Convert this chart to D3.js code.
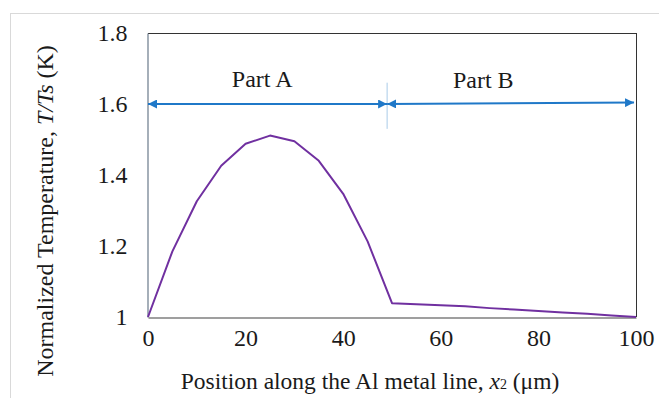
<!DOCTYPE html>
<html>
<head>
<meta charset="utf-8">
<script src="https://cdn.jsdelivr.net/npm/d3@7"></script>
<style>
  html, body { margin: 0; padding: 0; background: #fff; }
  svg { display: block; }
  text { font-family: "Liberation Serif", "Times New Roman", serif; fill: #1a1a1a; }
</style>
</head>
<body>
<svg id="chart" width="659" height="398"></svg>
<script>
// ---- data ----
const positions = [0, 5, 10, 15, 20, 25, 30, 35, 40, 45, 50, 55, 60, 65, 70, 75, 80, 85, 90, 95, 100];
const temperatures = [1.000, 1.185, 1.326, 1.426, 1.488, 1.511, 1.495, 1.440, 1.347, 1.213, 1.039,
                      1.036, 1.033, 1.030, 1.025, 1.021, 1.017, 1.013, 1.009, 1.004, 1.000];
const xTicks = [0, 20, 40, 60, 80, 100];
const yTicks = [1, 1.2, 1.4, 1.6, 1.8];
const yTickLabels = ["1", "1.2", "1.4", "1.6", "1.8"];
const partLabels = ["Part A", "Part B"];
const partLabelX = [23.4, 68.7];
const partLabelY = [1.647, 1.645];
const arrowStartX = [0, 49];
const arrowEndX = [49, 99.6];
const arrowStartY = [1.6, 1.6];
const arrowEndY = [1.6, 1.604];
const dividerX = [49];
const dividerY = [1.66, 1.53];

// ---- layout ----
const svg = d3.select("#chart");
const mLeft = 148, mRight = 636, mTop = 33, mBottom = 317;
const x = d3.scaleLinear().domain([0, 100]).range([mLeft, mRight]);
const y = d3.scaleLinear().domain([1, 1.8]).range([mBottom, mTop]);

// outer light frame
svg.append("rect").attr("x", 10.5).attr("y", 13.5).attr("width", 700).attr("height", 500)
  .attr("fill", "none").attr("stroke", "#d9d9d9").attr("stroke-width", 1);

// plot border
svg.append("line").attr("x1", mLeft).attr("x2", mRight + 0.5).attr("y1", mTop + 0.5).attr("y2", mTop + 0.5)
  .attr("stroke", "#333").attr("stroke-width", 1);
svg.append("line").attr("x1", mRight + 0.5).attr("x2", mRight + 0.5).attr("y1", mTop).attr("y2", mBottom)
  .attr("stroke", "#333").attr("stroke-width", 1);

// axes
const xAxis = d3.axisBottom(x).tickValues(xTicks).tickSize(0).tickPadding(11).tickFormat(d3.format("d"));
const gx = svg.append("g").attr("transform", `translate(0,${mBottom + 0.5})`).call(xAxis);
gx.select(".domain").attr("stroke", "#404040").attr("stroke-width", 1.2);
gx.selectAll("text").style("font-size", "24px").attr("fill", "#1a1a1a")
  .style("font-family", "'Liberation Serif', serif");

const yAxis = d3.axisLeft(y).tickValues(yTicks).tickSize(0).tickPadding(20)
  .tickFormat((d, i) => yTickLabels[i]);
const gy = svg.append("g").attr("transform", `translate(${mLeft - 0.5},0)`).call(yAxis);
gy.select(".domain").attr("stroke", "#6a7a8a").attr("stroke-width", 1.2);
gy.selectAll("text").style("font-size", "24px").attr("fill", "#1a1a1a")
  .style("font-family", "'Liberation Serif', serif");

// data line
const line = d3.line().x((d, i) => x(positions[i])).y(d => y(d));
svg.append("path").datum(temperatures).attr("d", line)
  .attr("fill", "none").attr("stroke", "#7030a0").attr("stroke-width", 2).attr("stroke-linejoin", "round");

// arrow markers
const defs = svg.append("defs");
defs.append("marker").attr("id", "ah").attr("viewBox", "0 0 10 10").attr("refX", 10).attr("refY", 5)
  .attr("markerWidth", 4.5).attr("markerHeight", 4.5).attr("orient", "auto-start-reverse")
  .attr("markerUnits", "strokeWidth")
  .append("path").attr("d", "M0,0 L10,5 L0,10 Z").attr("fill", "#1f78c8");

// divider
svg.append("line").attr("x1", x(dividerX[0])).attr("x2", x(dividerX[0]))
  .attr("y1", y(dividerY[0])).attr("y2", y(dividerY[1]))
  .attr("stroke", "#a9cbe8").attr("stroke-width", 1);

// arrows
arrowStartX.forEach((sx, i) => {
  svg.append("line")
    .attr("x1", x(sx)).attr("y1", y(arrowStartY[i]))
    .attr("x2", x(arrowEndX[i])).attr("y2", y(arrowEndY[i]))
    .attr("stroke", "#1f78c8").attr("stroke-width", 2)
    .attr("marker-start", "url(#ah)").attr("marker-end", "url(#ah)");
});

// part labels
partLabels.forEach((t, i) => {
  svg.append("text").attr("x", x(partLabelX[i])).attr("y", y(partLabelY[i]))
    .attr("text-anchor", "middle").style("font-size", "24px").text(t);
});

// x axis title
const xt = svg.append("text").attr("x", 370).attr("y", 389).attr("text-anchor", "middle").style("font-size", "23.5px");
xt.append("tspan").text("Position along the Al metal line, ");
xt.append("tspan").style("font-style", "italic").text("x");
xt.append("tspan").style("font-size", "14px").text("2");
xt.append("tspan").text(" (μm)");

// y axis title
const yt = svg.append("text").attr("transform", "translate(53,211) rotate(-90)")
  .attr("text-anchor", "middle").style("font-size", "24px");
yt.append("tspan").text("Normalized Temperature, ");
yt.append("tspan").style("font-style", "italic").text("T/Ts");
yt.append("tspan").text(" (K)");
</script>
</body>
</html>
